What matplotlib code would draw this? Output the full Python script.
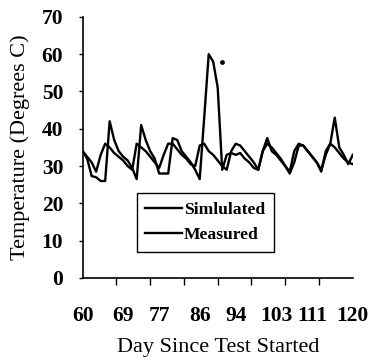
import numpy as np
import matplotlib
matplotlib.use("Agg")
import matplotlib.pyplot as plt

# daily temperatures, day 60 .. 120
days = np.arange(60, 121)
simulated = [34, 32.5, 31, 28.5, 33, 36, 35, 33.5, 32.5, 31.5,
             30, 29, 36, 35, 34, 32.5, 31, 29.5, 33, 36,
             36, 34.5, 33, 32, 30.5, 30, 35.5, 36, 34, 33,
             31.5, 30, 29, 34, 36, 35.5, 34, 32.5, 31, 29,
             34, 36, 35, 33.5, 32, 30, 28.5, 34, 36, 35.5,
             34, 32.5, 31, 28.5, 34, 36, 35, 33.5, 32, 31,
             30.5]
measured = [34, 32, 27.3, 27, 26, 26, 42, 37, 34, 32.5,
            31.5, 29.5, 26.5, 41, 37, 34, 32, 28, 28, 28,
            37.5, 37, 34, 32.5, 31, 29, 26.5, 43, 60, 58,
            51, 29, 33, 33.5, 33, 33.5, 32, 31, 29.5, 29,
            34, 37.5, 34, 33, 31.5, 30, 28, 31, 35.5, 35.5,
            34, 32.5, 31, 29, 33, 36, 43, 35, 33, 30.5,
            33]
# lone reading above the peak
extra_day = [91]
extra_temp = [58]

x_ticks = [60, 69, 77, 86, 94, 103, 111, 120]
y_ticks = [0, 10, 20, 30, 40, 50, 60, 70]

serif = ["Liberation Serif", "DejaVu Serif"]
plt.rcParams["font.family"] = serif

fig = plt.figure(figsize=(3.69, 3.60), dpi=100)
ax = fig.add_axes([0.224, 0.228, 0.732, 0.725])

ax.plot(days, simulated, color="black", lw=1.7, label="Simlulated")
ax.plot(days, measured, color="black", lw=1.7, label="Measured")
ax.plot(extra_day, extra_temp, "o", color="black", ms=2.4)

ax.set_xlim(60, 120)
ax.set_ylim(0, 70)

for side in ("top", "right"):
    ax.spines[side].set_visible(False)
ax.spines["left"].set_linewidth(1.2)
ax.spines["bottom"].set_linewidth(1.2)

ax.set_yticks(y_ticks)
ax.set_yticklabels([str(v) for v in y_ticks], fontsize=15.5, fontweight="bold")
ax.tick_params(axis="y", direction="out", length=3, width=1, pad=11)

# labels sit at their day values, tick marks are evenly spaced
ax.set_xticks(x_ticks)
ax.set_xticklabels([str(v) for v in x_ticks], fontsize=15.5, fontweight="bold")
ax.set_xticks(np.linspace(60, 120, 9), minor=True)
ax.tick_params(axis="x", which="major", length=0, pad=20)
ax.tick_params(axis="x", which="minor", direction="out", length=5, width=1)

ax.set_xlabel("Day Since Test Started", fontsize=16, labelpad=9)
ax.set_ylabel("Temperature (Degrees C)", fontsize=16, labelpad=8)

leg = ax.legend(loc="lower left", bbox_to_anchor=(0.2, 0.1), borderaxespad=0,
                fancybox=False, framealpha=1, edgecolor="black",
                handlelength=2.1, handletextpad=0.1, borderpad=0.5,
                labelspacing=0.5,
                prop={"family": serif, "weight": "bold", "size": 12.6})
leg.get_frame().set_linewidth(1.0)

fig.savefig("out.png", dpi=100)
